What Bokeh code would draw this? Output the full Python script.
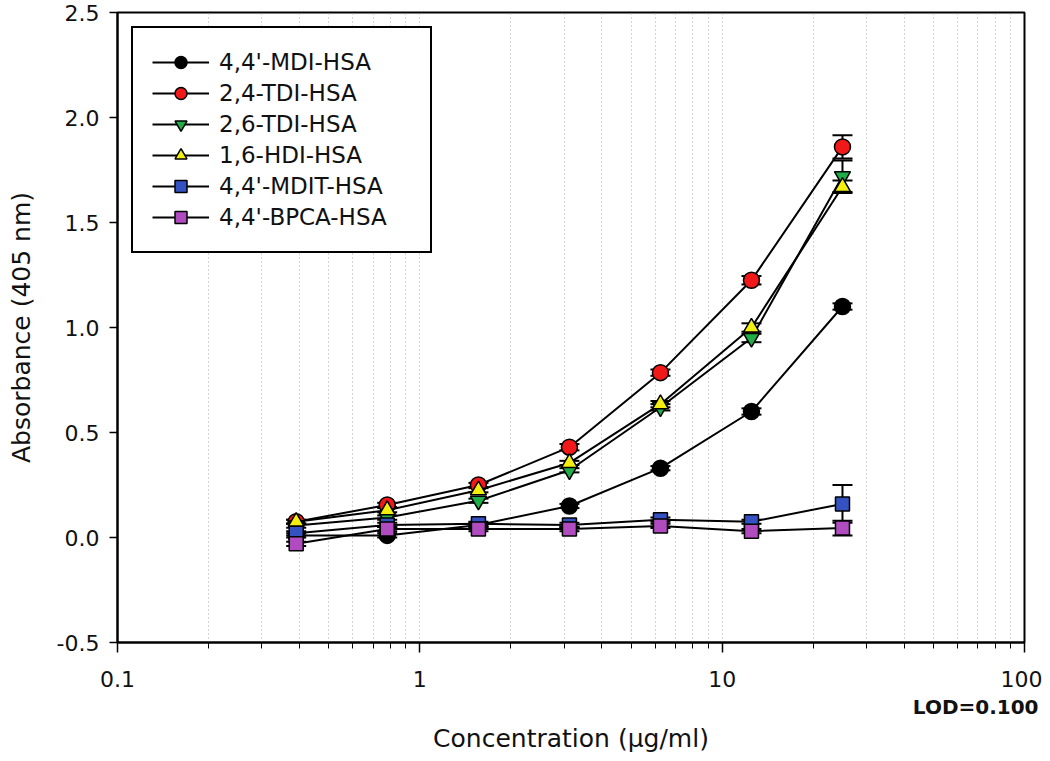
from bokeh.plotting import figure
from bokeh.models import (Whisker, TeeHead, ColumnDataSource, FixedTicker, Title,
                          CustomJSTickFormatter, NumeralTickFormatter, Range1d)
from bokeh.embed import file_html
from bokeh.resources import INLINE

# ---- data ----
conc = [0.39, 0.78, 1.5625, 3.125, 6.25, 12.5, 25]
names = ["4,4'-MDI-HSA", "2,4-TDI-HSA", "2,6-TDI-HSA", "1,6-HDI-HSA", "4,4'-MDIT-HSA", "4,4'-BPCA-HSA"]
mdi = [0.01, 0.01, 0.06, 0.15, 0.33, 0.60, 1.10]
mdi_err = [0.01, 0.01, 0.01, 0.01, 0.01, 0.015, 0.015]
tdi24 = [0.075, 0.155, 0.25, 0.43, 0.785, 1.225, 1.86]
tdi24_err = [0.01, 0.01, 0.01, 0.015, 0.015, 0.02, 0.055]
tdi26 = [0.057, 0.095, 0.175, 0.32, 0.62, 0.95, 1.72]
tdi26_err = [0.01, 0.01, 0.01, 0.01, 0.015, 0.02, 0.075]
hdi = [0.075, 0.13, 0.225, 0.355, 0.635, 1.00, 1.67]
hdi_err = [0.01, 0.01, 0.01, 0.01, 0.015, 0.02, 0.03]
mdit = [0.02, 0.06, 0.065, 0.06, 0.085, 0.075, 0.16]
mdit_err = [0.01, 0.01, 0.01, 0.01, 0.01, 0.01, 0.09]
bpca = [-0.03, 0.04, 0.04, 0.04, 0.055, 0.03, 0.045]
bpca_err = [0.01, 0.01, 0.01, 0.01, 0.01, 0.01, 0.035]
x_ticks = [0.1, 1, 10, 100]
y_ticks = [-0.5, 0.0, 0.5, 1.0, 1.5, 2.0, 2.5]
x_label = "Concentration (\u03bcg/ml)"
y_label = "Absorbance (405 nm)"
lod_note = "LOD=0.100"

series = [
    (names[0], mdi, mdi_err, "circle", "#000000", 16),
    (names[1], tdi24, tdi24_err, "circle", "#f01818", 16),
    (names[2], tdi26, tdi26_err, "inverted_triangle", "#1fae48", 16),
    (names[3], hdi, hdi_err, "triangle", "#f2ee10", 16),
    (names[4], mdit, mdit_err, "square", "#3552c2", 14),
    (names[5], bpca, bpca_err, "square", "#b04cc0", 14),
]

FONT = "DejaVu Sans"

p = figure(width=1042, height=752, x_axis_type="log",
           x_range=Range1d(0.1, 100), y_range=Range1d(-0.5, 2.5),
           output_backend="svg", toolbar_location=None,
           min_border_left=117, min_border_right=18, min_border_top=12, min_border_bottom=100,
           background_fill_color="white", border_fill_color="white")

p.outline_line_color = "black"
p.outline_line_width = 2
p.outline_line_alpha = 1

# grid
p.ygrid.grid_line_color = None
for attr in ("grid", "minor_grid"):
    setattr(p.xgrid, attr + "_line_color", "#a8a8a8")
    setattr(p.xgrid, attr + "_line_dash", "1 3")
    setattr(p.xgrid, attr + "_line_width", 1)

# axes
minor = [k * 10.0 ** d for d in (-1, 0, 1) for k in range(2, 10)]
p.xaxis.ticker = FixedTicker(ticks=x_ticks, minor_ticks=minor)
p.xaxis.formatter = CustomJSTickFormatter(code="return tick.toString();")
p.yaxis.ticker = FixedTicker(ticks=y_ticks, minor_ticks=[])
p.yaxis.formatter = NumeralTickFormatter(format="0.0")

for ax in (p.xaxis[0], p.yaxis[0]):
    ax.axis_line_color = "black"
    ax.axis_line_width = 2
    ax.major_tick_line_color = "black"
    ax.major_tick_line_width = 1.5
    ax.minor_tick_line_color = "black"
    ax.minor_tick_line_width = 1
    ax.major_tick_in = 0
    ax.minor_tick_in = 0
    ax.major_label_text_font = FONT
    ax.major_label_text_font_size = "22px"
    ax.major_label_text_color = "#111111"
    ax.axis_label_text_font = FONT
    ax.axis_label_text_font_size = "25px"
    ax.axis_label_text_font_style = "normal"
    ax.axis_label_text_color = "#111111"

p.xaxis.major_tick_out = 10
p.xaxis.minor_tick_out = 6
p.xaxis.major_label_standoff = 18

p.yaxis.major_tick_out = 8
p.yaxis.minor_tick_out = 0
p.yaxis.major_label_standoff = 10
p.yaxis.axis_label = y_label
p.yaxis.axis_label_standoff = 18

# below-axis texts: LOD note (right) then the x-axis title (centre)
p.add_layout(Title(text=lod_note, align="right", text_font=FONT, text_font_size="20px",
                   text_font_style="bold", text_color="#111111", standoff=6, offset=-14), "below")
p.add_layout(Title(text=x_label, align="center", text_font=FONT, text_font_size="25px",
                   text_font_style="normal", text_color="#111111", standoff=0), "below")

# series
for name, ys, errs, marker, color, size in series:
    src = ColumnDataSource(dict(
        x=conc, y=ys,
        upper=[a + b for a, b in zip(ys, errs)],
        lower=[a - b for a, b in zip(ys, errs)],
    ))
    p.line("x", "y", source=src, line_color="black", line_width=2, legend_label=name)
    w = Whisker(base="x", upper="upper", lower="lower", source=src, dimension="height",
                line_color="black", line_width=2,
                upper_head=TeeHead(size=20, line_color="black", line_width=2),
                lower_head=TeeHead(size=20, line_color="black", line_width=2))
    p.add_layout(w)
    p.scatter("x", "y", source=src, marker=marker, size=size, fill_color=color,
              line_color="black", line_width=1.5, legend_label=name)

# legend
lg = p.legend[0]
lg.location = "top_left"
lg.margin = 14
lg.border_line_color = "black"
lg.border_line_width = 2
lg.border_line_alpha = 1
lg.background_fill_color = "white"
lg.background_fill_alpha = 1
lg.padding = 19
lg.spacing = 1
lg.glyph_width = 57
lg.glyph_height = 30
lg.label_height = 30
lg.label_standoff = 10
lg.label_width = 192
lg.label_text_font = FONT
lg.label_text_font_size = "23px"
lg.label_text_color = "#111111"

open("out.html", "w").write(file_html(p, INLINE))
